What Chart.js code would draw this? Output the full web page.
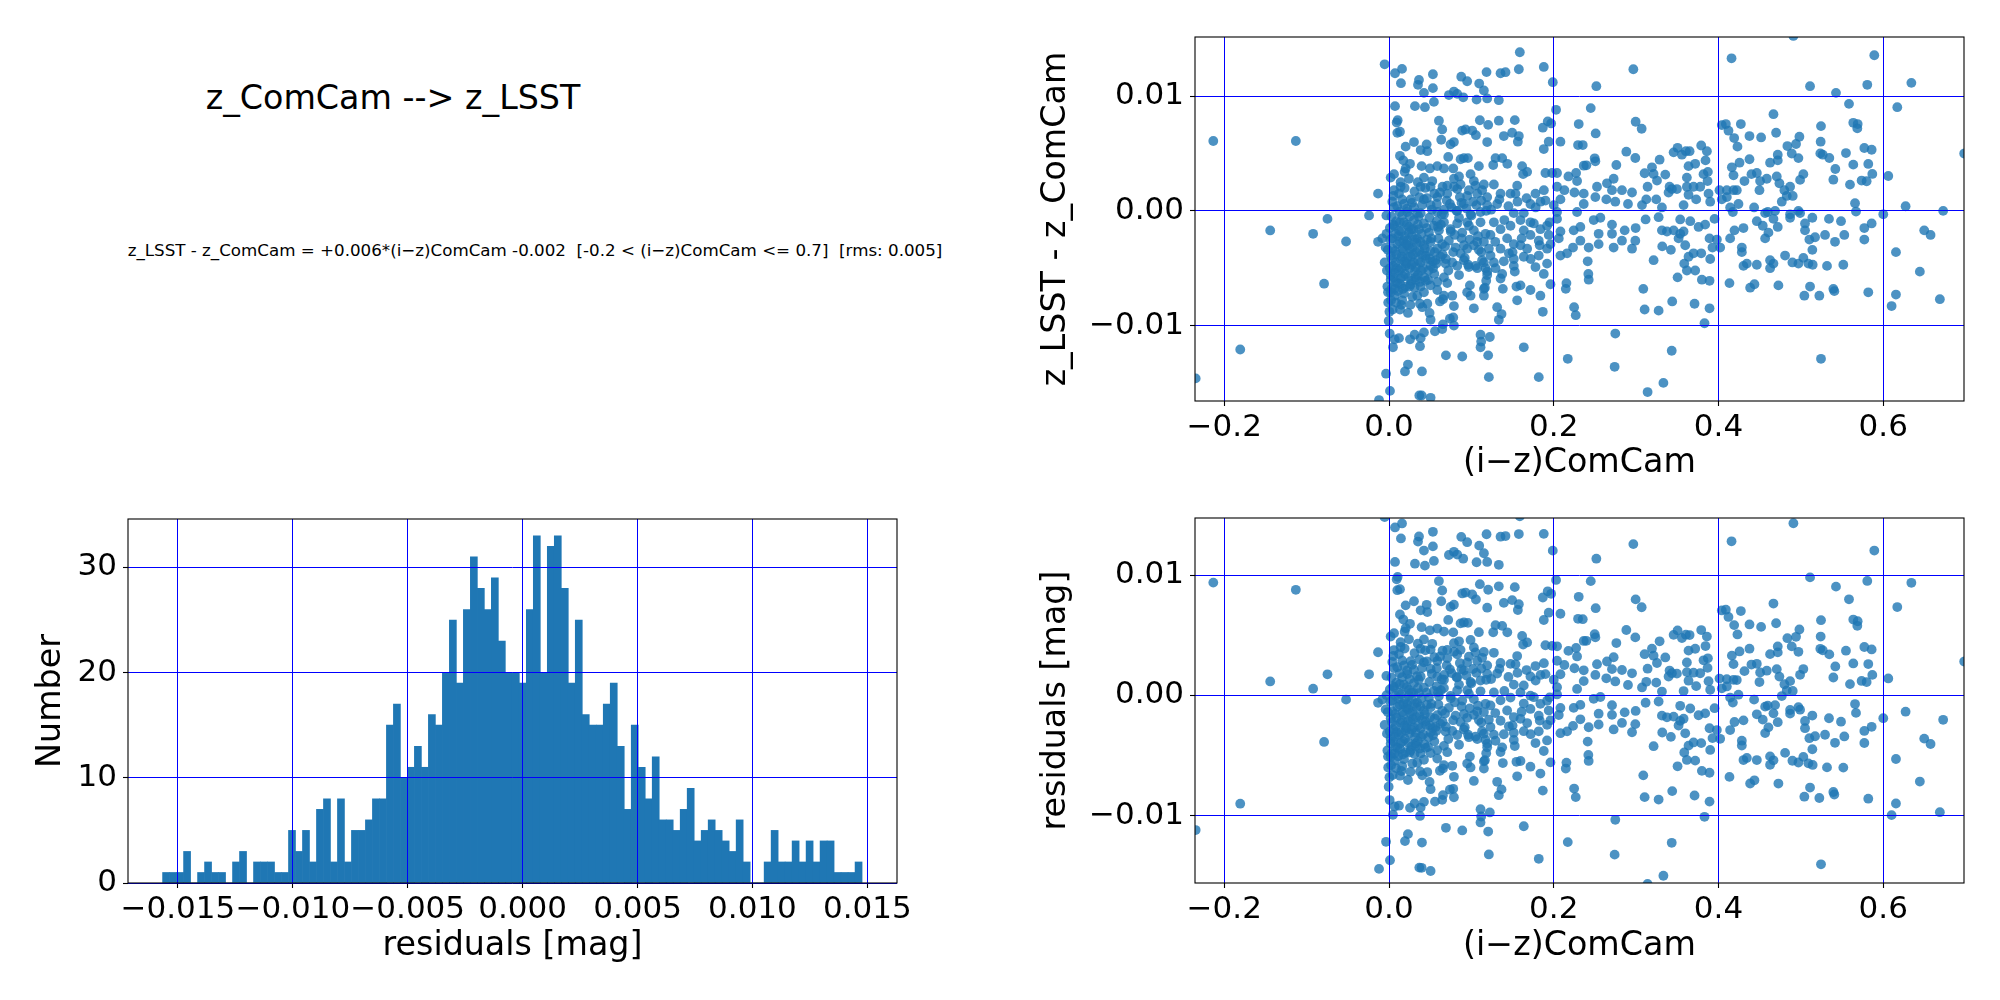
<!DOCTYPE html>
<html>
<head>
<meta charset="utf-8">
<script src="https://cdn.jsdelivr.net/npm/chart.js@4.4.1/dist/chart.umd.min.js"></script>
<style>
  html, body { margin: 0; padding: 0; background: #fff; }
  body { width: 2000px; height: 1000px; position: relative; overflow: hidden; font-family: "DejaVu Sans", sans-serif; color: #000; }
  .box { position: absolute; }
  .txt { position: absolute; white-space: pre; transform: translate(-50%, -50%); line-height: 1.2; }
  #title { left: 393px; top: 98px; font-size: 33.3px; }
  #eq { left: 535px; top: 250px; font-size: 16.7px; }
</style>
</head>
<body>
<div id="title" class="txt">z_ComCam --&gt; z_LSST</div>
<div id="eq" class="txt">z_LSST - z_ComCam = +0.006*(i−z)ComCam -0.002  [-0.2 &lt; (i−z)ComCam &lt;= 0.7]  [rms: 0.005]</div>
<div class="box" style="left:0px;top:480px;width:920px;height:520px;"><canvas id="hist" width="920" height="520"></canvas></div>
<div class="box" style="left:1000px;top:0px;width:1000px;height:500px;"><canvas id="top" width="1000" height="500"></canvas></div>
<div class="box" style="left:1000px;top:480px;width:1000px;height:520px;"><canvas id="bot" width="1000" height="520"></canvas></div>
<script>
// ---------------- DATA ----------------
// fit shown in the figure text
const fitSlope = 0.006;
const fitIntercept = -0.002;

// histogram of residuals: 100 bins
const histBinStart = -0.015665;
const histBinWidth = 0.00030435;
const histCounts = [
  1,1,1,3,0,1,2,1,1,0,
  2,3,0,2,2,2,1,1,5,3,
  5,2,7,8,2,8,2,5,5,6,
  8,8,15,17,10,11,13,11,16,15,
  20,25,19,26,31,28,26,29,23,20,
  20,19,26,33,20,32,33,28,19,25,
  16,15,15,17,19,13,7,15,11,8,
  12,6,6,5,7,9,4,5,6,5,
  4,3,6,2,0,0,2,5,2,2,
  4,2,4,2,4,4,1,1,1,2
];
const histXTicks = [-0.015, -0.010, -0.005, 0.000, 0.005, 0.010, 0.015];
const histYTicks = [0, 10, 20, 30];

const scatterXTicks = [-0.2, 0.0, 0.2, 0.4, 0.6];
const scatterYTicks = [-0.01, 0.00, 0.01];

// (i-z)ComCam , z_LSST - z_ComCam
const izVsDz = [
  // sparse / upper region, x < 0.125
  [-0.2133,0.00609],[-0.1131,0.00609],[-0.0053,0.01278],[0.0073,0.0120],[0.0158,0.01238],[0.0145,0.01113],[0.0364,0.01142],[0.0352,0.01099],
  [0.0424,0.01029],[0.0533,0.01191],[0.0533,0.0107],[0.0545,0.0095],[0.0436,0.00904],[0.0315,0.00913],[0.0073,0.00913],[0.0105,0.00791],
  [0.0093,0.0077],[0.0133,0.0069],[0.0101,0.0068],[0.0202,0.0056],[0.0303,0.0060],[0.0384,0.0053],[0.0457,0.0058],[0.0465,0.0052],
  [0.0606,0.00786],[0.0646,0.0071],[0.0634,0.0062],[0.0747,0.0058],[0.0788,0.0060],[0.0727,0.0101],[0.0788,0.0104],[0.0828,0.0102],
  [0.0901,0.0099],[0.0877,0.0117],[0.0949,0.0113],[0.1063,0.0097],[0.1095,0.0111],[0.1152,0.0105],[0.1184,0.0121],[0.1192,0.0098],
  [0.1103,0.0079],[0.1204,0.0075],[0.0889,0.0070],[0.0929,0.0071],[0.1010,0.0070],[0.1055,0.0066],[0.1192,0.0060],[0.0869,0.0045],
  [0.0909,0.0046],[0.0958,0.0046],[0.0719,0.0047],[0.0133,0.0048],[0.0174,0.0044],[0.0255,0.0041],[0.0202,0.0037],[0.0190,0.0034],
  [0.0396,0.0039],[0.0497,0.0037],[0.0586,0.0039],[0.0667,0.0037],[0.0780,0.0037],[0.1091,0.0039],[0.0020,0.0029],[0.0061,0.0032],
  [0.0141,0.0025],[0.0242,0.0028],[0.0424,0.0029],[0.0525,0.0026],[0.0707,0.0022],[0.0788,0.0028],[0.0869,0.0023],[0.0990,0.0032],
  [0.1030,0.0026],[0.1152,0.0023],[-0.0133,0.0015],[0.0053,0.0013],[0.0121,0.0015],[0.0141,0.0021],[0.0263,0.0010],[0.0384,0.0021],
  [0.0424,0.0010],[0.0505,0.0021],[0.0586,0.0012],[0.0707,0.0015],[0.0828,0.0019],[0.0949,0.0013],[0.1071,0.0015],[0.1131,0.0018],
  [0.1192,0.0012],[0.0061,0.0003],[0.0182,0.0006],[0.0222,-0.0001],[0.0303,0.0003],[0.0384,-0.0002],[0.0505,0.0005],[0.0586,-0.0001],
  [0.0667,-0.0003],[0.0828,0.0000],[0.0909,0.0006],[0.0990,-0.0003],[0.1111,-0.0001],[0.1192,0.0005],[-0.0242,-0.0004],[-0.0747,-0.0007],
  [-0.0032,-0.0004],
  // lower region, x < 0.125
  [-0.1442,-0.00171],[-0.0921,-0.0020],[-0.0521,-0.00267],[-0.0788,-0.00635],[-0.1806,-0.01209],[-0.2347,-0.01461],[-0.0133,-0.0027],
  [-0.0081,-0.0024],[-0.0040,-0.0032],[-0.0053,-0.0045],[-0.0020,-0.0066],[-0.0012,-0.0071],[-0.0004,-0.0096],[0.0008,-0.0107],
  [0.0048,-0.0119],[0.0069,-0.0112],[0.0121,-0.0111],[-0.0036,-0.0142],[0.0012,-0.0157],[-0.0121,-0.0165],[0.0133,-0.0086],
  [0.0149,-0.0082],[0.0230,-0.0089],[0.0230,-0.0134],[0.0194,-0.0140],[0.0400,-0.0140],[0.0368,-0.0161],[0.0396,-0.0161],
  [0.0505,-0.0163],[0.0255,-0.0112],[0.0311,-0.0108],[0.0384,-0.0111],[0.0424,-0.0106],[0.0376,-0.0118],[0.0558,-0.0105],
  [0.0646,-0.0103],[0.0655,-0.0099],[0.0691,-0.0126],[0.0889,-0.0127],[0.0788,-0.0100],[0.0739,-0.0094],[0.0780,-0.0093],
  [0.0505,-0.0095],[0.0493,-0.0089],[0.0465,-0.0081],[0.0404,-0.0084],[0.0376,-0.0081],[0.1111,-0.0108],[0.1119,-0.0114],
  [0.1111,-0.0119],[0.1204,-0.0126],[0.1212,-0.0145],[0.1030,-0.0085],[0.0788,-0.0083],[0.0768,-0.0074],[0.0655,-0.0077],
  [0.0618,-0.0079],[0.0667,-0.0074],[0.0990,-0.0074],[0.0949,-0.0071],[0.0982,-0.0065],[0.1164,-0.0067],[0.1152,-0.0074],
  // dense core, x 0 - 0.125
  [0.0061,-0.0013],[0.0121,-0.0017],[0.0182,-0.0010],[0.0242,-0.0014],[0.0303,-0.0008],[0.0364,-0.0016],[0.0424,-0.0011],[0.0485,-0.0019],
  [0.0545,-0.0013],[0.0606,-0.0017],[0.0667,-0.0010],[0.0747,-0.0016],[0.0828,-0.0011],[0.0889,-0.0019],[0.0970,-0.0013],[0.1030,-0.0017],
  [0.1111,-0.0010],[0.1172,-0.0020],[0.0040,-0.0024],[0.0101,-0.0029],[0.0162,-0.0033],[0.0222,-0.0026],[0.0283,-0.0032],[0.0343,-0.0024],
  [0.0424,-0.0030],[0.0505,-0.0027],[0.0586,-0.0033],[0.0646,-0.0029],[0.0727,-0.0026],[0.0808,-0.0032],[0.0869,-0.0037],[0.0949,-0.0033],
  [0.1030,-0.0030],[0.1091,-0.0034],[0.1152,-0.0027],[0.1212,-0.0033],[0.0020,-0.0039],[0.0081,-0.0045],[0.0141,-0.0042],[0.0202,-0.0048],
  [0.0263,-0.0040],[0.0323,-0.0049],[0.0384,-0.0045],[0.0444,-0.0039],[0.0505,-0.0048],[0.0566,-0.0043],[0.0626,-0.0040],[0.0687,-0.0046],
  [0.0768,-0.0045],[0.0828,-0.0048],[0.0909,-0.0043],[0.0970,-0.0049],[0.1071,-0.0050],[0.1152,-0.0045],[0.1192,-0.0053],[0.0020,-0.0056],
  [0.0081,-0.0062],[0.0141,-0.0059],[0.0202,-0.0066],[0.0263,-0.0064],[0.0323,-0.0058],[0.0384,-0.0066],[0.0444,-0.0061],[0.0505,-0.0065],
  [0.0586,-0.0062],[0.0667,-0.0058],[0.0707,-0.0063],[0.0020,-0.0071],[0.0069,-0.0074],[0.0182,-0.0072],[0.0283,-0.0075],[0.0343,-0.0074],
  [0.0424,-0.0071],[0.0586,-0.0069],
  [0.003,-0.0005],[0.008,-0.0020],[0.013,-0.0027],[0.018,-0.0035],[0.023,-0.0040],[0.028,-0.0022],[0.033,-0.0036],[0.038,-0.0027],
  [0.005,-0.0048],[0.012,-0.0052],[0.017,-0.0057],[0.025,-0.0050],[0.030,-0.0045],[0.045,-0.0042],[0.050,-0.0035],[0.055,-0.0055],
  [0.060,-0.0024],[0.004,-0.0033],[0.010,-0.0063],[0.015,-0.0018],[0.021,-0.0029],[0.027,-0.0061],[0.035,-0.0056],[0.040,-0.0038],
  [0.048,-0.0052],[0.002,-0.0060],[0.007,-0.0068],[0.019,-0.0044],[0.031,-0.0067],[0.043,-0.0058],[0.053,-0.0044],[0.065,-0.0038],
  [0.072,-0.0052],[0.078,-0.0036],[0.085,-0.0056],[0.092,-0.0041],[0.098,-0.0025],[0.105,-0.0048],[0.112,-0.0036],[0.118,-0.0061],
  [0.001,-0.0015],[0.009,-0.0009],[0.016,-0.0004],[0.024,-0.0019],[0.036,-0.0005],[0.046,-0.0025],[0.058,-0.0009],[0.068,-0.0031],
  [0.075,-0.0018],[0.088,-0.0024],[0.095,-0.0010],[0.108,-0.0022],
  [0.004,0.0008],[0.010,0.0004],[0.016,0.0010],[0.022,0.0002],[0.028,0.0007],[0.034,-0.0002],[0.040,0.0005],[0.046,0.0011],
  [0.052,0.0001],[0.058,0.0006],[0.064,-0.0003],[0.070,0.0009],[0.076,0.0003],[0.082,0.0000],[0.088,0.0007],[0.094,0.0002],
  [0.100,-0.0004],[0.106,0.0005],[0.112,0.0009],[0.118,0.0000],[0.006,0.0018],[0.019,0.0020],[0.031,0.0017],[0.044,0.0020],
  [0.062,0.0016],[0.079,0.0021],[0.097,0.0018],[0.013,-0.0001],[0.025,-0.0005],[0.037,0.0012],[0.049,-0.0006],[0.067,0.0001],
  [0.085,-0.0006],
  [0.0015,-0.0025],[0.0035,-0.0042],[0.0055,-0.0058],[0.0075,-0.0035],[0.0095,-0.0050],[0.0115,-0.0022],[0.0135,-0.0064],[0.0155,-0.0040],
  [0.0175,-0.0026],[0.0195,-0.0055],[0.0215,-0.0012],[0.0235,-0.0058],[0.0255,-0.0033],[0.0275,-0.0047],[0.0295,-0.0016],[0.0315,-0.0053],
  [0.0335,-0.0028],[0.0355,-0.0043],[0.0375,-0.0062],[0.0395,-0.0020],[0.0415,-0.0050],[0.0435,-0.0033],[0.0455,-0.0015],[0.0475,-0.0060],
  [0.0495,-0.0042],[0.0515,-0.0024],[0.0535,-0.0050],[0.0555,-0.0036],[0.0575,-0.0046],[0.0595,-0.0014],[0.0010,-0.0050],[0.0030,-0.0068],
  [0.0050,-0.0012],[0.0070,-0.0054],[0.0090,-0.0038],[0.0110,-0.0070],[0.0130,-0.0010],[0.0150,-0.0050],[0.0170,-0.0068],[0.0190,-0.0022],
  [0.0210,-0.0046],[0.0230,-0.0030],[0.0250,-0.0066],[0.0270,-0.0016],[0.0290,-0.0038],[0.0310,-0.0025],[0.0330,-0.0060],[0.0350,-0.0012],
  [0.0370,-0.0035],[0.0390,-0.0052],[-0.0015,-0.0034],[-0.0025,-0.0052],[-0.0010,-0.0080],[0.0005,-0.0088],[-0.0030,-0.0020],[0.0025,-0.0078],
  [0.0045,-0.0086],[0.0085,-0.0080],[0.0160,-0.0078],[0.0260,-0.0082],
  [0.0630,-0.0012],[0.0690,-0.0042],[0.0740,0.0006],[0.0800,-0.0021],[0.0860,0.0012],[0.0910,-0.0030],[0.0960,-0.0047],[0.1020,0.0008],
  [0.1070,-0.0027],[0.1130,-0.0043],[0.1240,0.0001],[0.1290,-0.0027],[0.1340,0.0010],[0.1400,-0.0008],[0.1450,0.0004],[0.1500,-0.0036],
  [0.1560,0.0008],[0.1610,-0.0024],[0.1670,0.0011],[0.1720,-0.0042],[0.1780,0.0003],[0.1830,-0.0030],[0.1880,0.0018],[0.1950,-0.0010],
  [0.2000,0.0005],[0.0650,0.0021],[0.0850,0.0030],[0.1050,0.0022],[0.0550,0.0015],[0.0350,0.0025],
  // upper region, x 0.125 - 0.40
  [0.1588,0.01383],[0.1576,0.01235],[0.1879,0.01255],[0.1988,0.01122],[0.1354,0.0120],[0.1414,0.01209],[0.1333,0.00965],[0.1333,0.00786],
  [0.1527,0.00791],[0.1394,0.00652],[0.1495,0.00681],[0.1576,0.00652],[0.1564,0.00603],[0.1867,0.00725],[0.1927,0.0078],[0.1968,0.00762],
  [0.2028,0.00881],[0.1939,0.00603],[0.1879,0.00539],[0.2081,0.00603],[0.2303,0.00757],[0.2449,0.00896],[0.2509,0.00675],[0.2295,0.00574],
  [0.2352,0.00574],[0.2517,0.01087],[0.2966,0.01235],[0.2994,0.00777],[0.3067,0.00716],[0.2881,0.00516],[0.2990,0.00461],[0.2497,0.00458],
  [0.2505,0.00432],[0.2364,0.00394],[0.2396,0.00397],[0.2760,0.0040],[0.3285,0.00446],[0.3192,0.0038],[0.3103,0.00328],[0.3212,0.00322],
  [0.3354,0.00316],[0.3253,0.00264],[0.3455,0.0051],[0.3503,0.0055],[0.3556,0.0049],[0.3604,0.0052],[0.3649,0.0052],[0.3790,0.0057],
  [0.3859,0.0052],[0.3636,0.0039],[0.3717,0.0041],[0.3842,0.0044],[0.3616,0.0029],[0.3871,0.0034],[0.3818,0.0032],[0.3867,0.0026],
  [0.3778,0.0021],[0.3697,0.0021],[0.3616,0.0021],[0.3636,0.0014],[0.3729,0.0010],[0.3879,0.0015],[0.3899,0.0008],[0.3576,0.0005],
  [0.3406,0.0021],[0.3434,0.0019],[0.3495,0.0019],[0.3394,0.0016],[0.3139,0.0021],[0.3123,0.0010],[0.3244,0.0010],[0.3313,0.0003],
  [0.3071,0.0005],[0.2950,0.0016],[0.2901,0.0006],[0.2828,0.0018],[0.2727,0.0028],[0.2646,0.0024],[0.2707,0.0018],[0.2747,0.0008],
  [0.2638,0.0010],[0.2525,0.0021],[0.2505,0.0012],[0.2364,0.0015],[0.2364,0.0006],[0.2251,0.0016],[0.2283,0.0026],[0.2178,0.0030],
  [0.2271,0.0033],[0.2129,0.0018],[0.2040,0.0021],[0.2040,0.0033],[0.1980,0.0033],[0.1899,0.0033],[0.2081,0.0010],[0.2283,-0.0001],
  [0.1677,0.0034],[0.1628,0.0032],[0.1616,0.0039],[0.1436,0.0041],[0.1374,0.0046],[0.1293,0.0046],[0.1265,0.0040],[0.1778,0.0015],
  [0.1839,0.0008],[0.1899,0.0009],[0.1717,0.0006],[0.1535,0.0015],[0.1556,0.0022],[0.1475,0.0015],[0.1354,0.0015],[0.1273,0.0023],
  [0.1313,0.0006],[0.1515,-0.0002],[0.1636,-0.0002],[0.2040,-0.0001],
  // upper region, x 0.40 - 0.70
  [0.4158,0.0133],[0.4909,0.01525],[0.5891,0.01357],[0.5111,0.01087],[0.5426,0.01029],[0.5806,0.01099],[0.6341,0.01116],[0.5584,0.00933],
  [0.6170,0.00904],[0.4667,0.00843],[0.4040,0.00748],[0.4089,0.00757],[0.4121,0.00699],[0.4271,0.00757],[0.4190,0.00635],[0.4230,0.0056],
  [0.4376,0.00652],[0.4517,0.0064],[0.4699,0.00681],[0.4982,0.00646],[0.4941,0.00583],[0.4836,0.00565],[0.5244,0.00739],[0.5240,0.00603],
  [0.5236,0.00501],[0.5265,0.0049],[0.5636,0.00768],[0.5689,0.00757],[0.5685,0.00719],[0.5547,0.00504],[0.5770,0.00548],[0.5859,0.00533],
  [0.5345,0.00461],[0.5636,0.00403],[0.5818,0.00409],[0.5418,0.00365],[0.5867,0.00322],[0.5737,0.00264],[0.5798,0.00258],[0.6061,0.00304],
  [0.5394,0.00272],[0.5596,0.00229],[0.5657,0.00067],[0.5669,-0.00006],[0.6000,-0.0003],[0.6271,0.0004],[0.6727,0.0000],[0.6982,0.0050],
  [0.4719,0.0049],[0.4719,0.0044],[0.4626,0.0042],[0.4889,0.0050],[0.4970,0.0046],[0.4376,0.0045],[0.4255,0.0042],[0.4162,0.0038],
  [0.4182,0.0031],[0.4400,0.0032],[0.4465,0.0033],[0.4505,0.0026],[0.4586,0.0028],[0.4707,0.0030],[0.4739,0.0024],[0.5030,0.0032],
  [0.4990,0.0027],[0.4869,0.0021],[0.4800,0.0018],[0.4901,0.0013],[0.4828,0.0013],[0.4768,0.0008],[0.4497,0.0018],[0.4315,0.0026],
  [0.4222,0.0018],[0.4182,0.0018],[0.4101,0.0018],[0.4012,0.0018],[0.4101,0.0012],[0.4040,0.0010],[0.4242,0.0006],[0.4141,0.0003],
  [0.4174,-0.0001],[0.4432,0.0003],[0.4566,-0.0002],[0.4598,-0.0001],[0.4687,0.0000],[0.4869,-0.0003],[0.4970,0.0000],[0.4990,-0.0002],
  // lower region, x 0.12 - 0.70
  [0.3115,-0.00075],[0.3273,-0.00055],[0.3535,-0.00075],[0.3657,-0.0009],[0.3758,-0.0014],[0.3838,-0.0012],[0.3952,-0.0007],[0.3313,-0.0017],
  [0.3374,-0.0018],[0.3455,-0.0017],[0.3535,-0.0020],[0.3576,-0.0018],[0.3515,-0.0024],[0.3596,-0.0030],[0.3317,-0.0031],[0.3422,-0.0034],
  [0.3212,-0.0043],[0.3636,-0.0040],[0.3697,-0.0037],[0.3790,-0.0037],[0.3899,-0.0042],[0.3584,-0.0046],[0.3616,-0.0052],[0.3717,-0.0052],
  [0.3503,-0.0058],[0.3798,-0.0060],[0.3891,-0.0061],[0.3891,-0.0024],[0.3927,-0.0032],[0.3980,-0.0025],[0.4020,-0.0032],[0.4141,-0.0024],
  [0.4194,-0.0017],[0.4303,-0.0015],[0.4283,-0.0032],[0.4283,-0.0036],[0.4344,-0.0046],[0.4303,-0.0048],[0.4465,-0.0047],[0.4626,-0.0043],
  [0.4667,-0.0046],[0.4626,-0.0050],[0.4566,-0.0024],[0.4606,-0.0019],[0.4537,-0.0013],[0.4465,-0.0009],[0.4667,-0.0007],[0.4719,-0.0014],
  [0.4869,-0.0006],[0.4808,-0.0039],[0.4897,-0.0045],[0.4970,-0.0046],[0.5030,-0.0041],[0.5091,-0.0046],[0.5143,-0.0047],[0.5139,-0.0034],
  [0.5103,-0.0025],[0.5172,-0.0023],[0.5050,-0.0017],[0.5050,-0.0011],[0.5139,-0.0006],[0.5293,-0.0021],[0.5414,-0.0027],[0.5527,-0.0021],
  [0.5487,-0.0009],[0.5341,-0.0007],[0.5317,-0.0048],[0.5515,-0.0047],[0.5770,-0.0015],[0.5859,-0.0011],[0.5770,-0.0025],[0.6154,-0.0036],
  [0.6497,-0.0017],[0.6574,-0.0021],[0.6444,-0.0053],[0.6154,-0.0073],[0.6101,-0.0083],[0.6687,-0.0077],[0.5818,-0.0071],[0.5394,-0.0068],
  [0.5406,-0.0070],[0.5224,-0.0074],[0.5111,-0.0066],[0.5042,-0.0074],[0.4727,-0.0065],[0.4436,-0.0064],[0.4384,-0.0067],[0.4133,-0.0063],
  [0.5244,-0.0129],[0.3830,-0.0098],[0.3891,-0.0085],[0.3709,-0.0081],[0.3438,-0.0079],[0.3273,-0.0087],[0.3103,-0.0086],[0.3087,-0.0068],
  [0.2747,-0.0107],[0.2739,-0.0136],[0.3432,-0.0122],[0.3331,-0.0150],[0.3139,-0.0158],[0.2170,-0.0129],[0.2267,-0.0091],[0.2247,-0.0084],
  [0.2154,-0.0063],[0.2146,-0.0068],[0.2424,-0.0060],[0.2420,-0.0055],[0.2412,-0.0044],[0.2424,-0.0032],[0.2545,-0.0029],[0.2545,-0.0020],
  [0.2707,-0.0012],[0.2707,-0.0020],[0.2727,-0.0032],[0.2828,-0.0026],[0.2861,-0.0017],[0.2950,-0.0033],[0.2990,-0.0026],[0.2994,-0.0015],
  [0.2485,-0.0008],[0.2566,-0.0006],[0.2323,-0.0014],[0.2242,-0.0017],[0.2323,-0.0026],[0.2234,-0.0032],[0.2162,-0.0037],[0.2081,-0.0039],
  [0.2081,-0.0018],[0.2061,-0.0024],[0.2040,-0.0007],[0.1939,-0.0021],[0.1919,-0.0033],[0.1919,-0.0046],[0.1879,-0.0055],[0.1960,-0.0064],
  [0.1838,-0.0074],[0.1867,-0.0088],[0.1717,-0.0069],[0.1778,-0.0049],[0.1636,-0.0040],[0.1677,-0.0033],[0.1818,-0.0039],[0.1818,-0.0026],
  [0.1758,-0.0011],[0.1636,-0.0017],[0.1596,-0.0030],[0.1515,-0.0048],[0.1527,-0.0053],[0.1596,-0.0065],[0.1547,-0.0066],[0.1556,-0.0078],
  [0.1382,-0.0068],[0.1354,-0.0059],[0.1394,-0.0044],[0.1293,-0.0050],[0.1313,-0.0084],[0.1366,-0.0090],[0.1333,-0.0095],[0.1224,-0.0110],
  [0.1636,-0.0119],[0.1818,-0.0145],
  [0.1273,-0.0010],[0.1354,-0.0016],[0.1475,-0.0013],[0.1596,-0.0008],[0.1717,-0.0010],[0.1838,-0.0016],[0.1232,-0.0021],[0.1434,-0.0024],
  [0.1515,-0.0029],[0.1354,-0.0033],[0.1232,-0.0039],[0.1455,-0.0037],[0.1273,-0.0045],[0.1172,-0.0050],[0.1515,-0.0042],[0.1919,-0.0013],
  [0.1960,-0.0029],[0.1717,-0.0021],[0.1192,-0.0056],[0.1374,-0.0055],[0.1152,-0.0068]
];

const izComCam = izVsDz.map(p => p[0]);
const dzLsstComCam = izVsDz.map(p => p[1]);
// residuals about the fit given in the figure text
const residualsMag = izComCam.map((x, i) => dzLsstComCam[i] - (fitSlope * x + fitIntercept));

// ---------------- CHARTS ----------------
Chart.defaults.font.family = '"DejaVu Sans", sans-serif';
Chart.defaults.color = '#000';
Chart.defaults.animation = false;

const TICK_FONT = 31;
const LABEL_FONT = 33.3;

function fmt(v, d) {
  const s = Math.abs(v).toFixed(d);
  return (v < -1e-12 ? '\u2212' : '') + s;
}

function mkScale(o) {
  return {
    type: 'linear',
    min: o.min, max: o.max,
    offset: false,
    afterBuildTicks: s => { s.ticks = o.ticks.map(v => ({ value: v })); },
    afterFit: s => { if (o.axis === 'x') s.height = o.size; else s.width = o.size; },
    grid: { color: '#0000ff', lineWidth: 1, z: 1, offset: false, drawTicks: true, tickLength: 5, tickColor: '#000', tickWidth: 1.1 },
    border: { display: false },
    ticks: {
      autoSkip: false, maxRotation: 0, minRotation: 0,
      padding: o.axis === 'x' ? 3 : 6,
      font: { size: TICK_FONT }, color: '#000',
      callback: v => fmt(v, o.dec)
    },
    title: {
      display: true, text: o.title, color: '#000', font: { size: LABEL_FONT },
      padding: o.axis === 'x' ? { top: 0, bottom: o.titlePad } : { top: o.titlePad, bottom: 0 }
    }
  };
}

const framePlugin = {
  id: 'frame',
  afterDraw(chart) {
    const { ctx, chartArea: a } = chart;
    ctx.save();
    ctx.strokeStyle = '#000';
    ctx.lineWidth = 1.1;
    ctx.strokeRect(a.left, a.top, a.right - a.left, a.bottom - a.top);
    ctx.restore();
  }
};

const commonOpts = {
  responsive: false,
  animation: false,
  events: [],
  plugins: { legend: { display: false }, tooltip: { enabled: false }, title: { display: false } }
};

// Histogram
const histCenters = histCounts.map((c, i) => histBinStart + (i + 0.5) * histBinWidth);
new Chart(document.getElementById('hist'), {
  type: 'bar',
  data: {
    datasets: [{
      data: histCounts.map((c, i) => ({ x: histCenters[i], y: c })),
      backgroundColor: '#1f77b4',
      borderWidth: 0,
      barPercentage: 1,
      categoryPercentage: 1
    }]
  },
  options: Object.assign({}, commonOpts, {
    layout: { padding: { top: 39, right: 23, left: 0, bottom: 0 } },
    scales: {
      x: mkScale({ axis: 'x', min: -0.01717, max: 0.01629, ticks: histXTicks, dec: 3, size: 117, title: 'residuals [mag]', titlePad: 34 }),
      y: mkScale({ axis: 'y', min: 0, max: 34.6, ticks: histYTicks, dec: 0, size: 128, title: 'Number', titlePad: 31 })
    }
  }),
  plugins: [framePlugin]
});

function scatterChart(id, yVals, yMin, yMax, yTitle, padTop, xSize, xTitlePad) {
  new Chart(document.getElementById(id), {
    type: 'scatter',
    data: {
      datasets: [{
        data: izComCam.map((x, i) => ({ x: x, y: yVals[i] })),
        pointRadius: 4.9,
        pointBorderWidth: 0,
        pointBackgroundColor: 'rgba(31,119,180,0.8)',
        clip: 0
      }]
    },
    options: Object.assign({}, commonOpts, {
      layout: { padding: { top: padTop, right: 36, left: 0, bottom: 0 } },
      scales: {
        x: mkScale({ axis: 'x', min: -0.2355, max: 0.698, ticks: scatterXTicks, dec: 1, size: xSize, title: '(i\u2212z)ComCam', titlePad: xTitlePad }),
        y: mkScale({ axis: 'y', min: yMin, max: yMax, ticks: scatterYTicks, dec: 2, size: 195, title: yTitle, titlePad: 36 })
      }
    }),
    plugins: [framePlugin]
  });
}

scatterChart('top', dzLsstComCam, -0.01658, 0.01516, 'z_LSST - z_ComCam', 37, 99, 17);
scatterChart('bot', residualsMag, -0.0156, 0.01474, 'residuals [mag]', 38, 117, 34);
</script>
</body>
</html>
